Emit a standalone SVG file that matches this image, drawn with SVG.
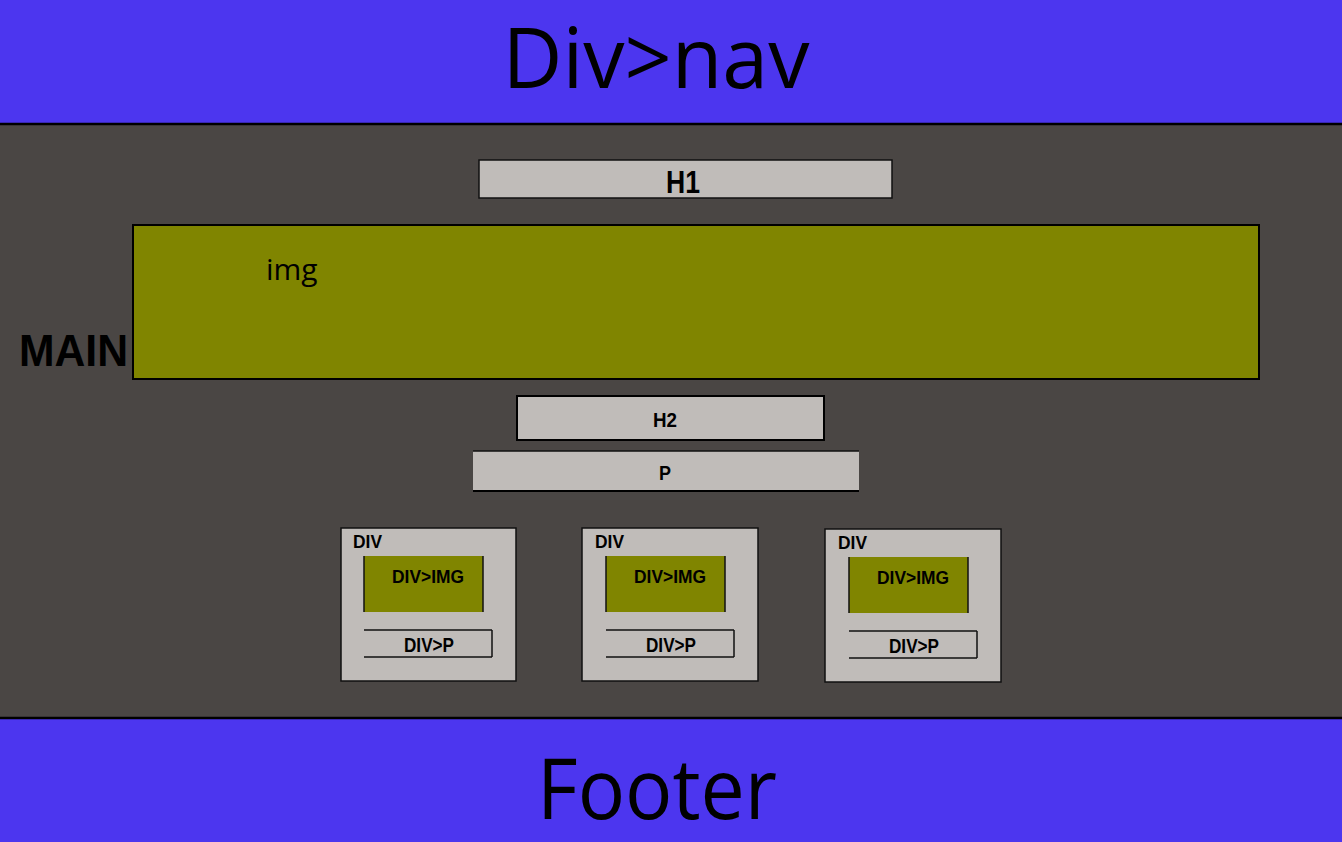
<svg xmlns="http://www.w3.org/2000/svg" width="1342" height="842" viewBox="0 0 1342 842">
<style>
.band{fill:#4c36ef}
.big{font-family:"Open Sans","Liberation Sans",sans-serif;font-size:84px;fill:#000;text-anchor:middle}
.gray{fill:#c0bcb9}
.olive{fill:#808500}
.edge{stroke:#000;stroke-width:2;fill:none}
.thin{stroke:#111;stroke-width:1.5;fill:none}
.lbl{font-family:"Liberation Sans",Arial,sans-serif;font-weight:bold;fill:#000;text-anchor:middle}
.sm{font-family:"Liberation Sans",Arial,sans-serif;font-weight:bold;fill:#000}
</style>
<rect x="0" y="0" width="1342" height="842" fill="#4a4644"/>
<g id="nav">
<rect class="band" x="0" y="0" width="1342" height="123"/>
<line x1="0" y1="124" x2="1342" y2="124" stroke="#000" stroke-width="2.5"/>
<text class="big" x="656" y="88" textLength="307" lengthAdjust="spacingAndGlyphs">Div&gt;nav</text>
</g>
<g id="main">
<text class="sm" x="19" y="366" font-size="44" textLength="109" lengthAdjust="spacingAndGlyphs">MAIN</text>
</g>
<g id="h1">
<rect class="gray" x="479" y="160" width="413" height="38"/>
<rect class="thin" x="479" y="160" width="413" height="38"/>
<text class="lbl" x="683" y="193" font-size="31" textLength="34" lengthAdjust="spacingAndGlyphs">H1</text>
</g>
<g id="img">
<rect class="olive" x="133" y="225" width="1126" height="154"/>
<rect class="edge" x="133" y="225" width="1126" height="154"/>
<text x="266" y="280" font-family="'Open Sans','Liberation Sans',sans-serif" font-size="30" fill="#000">img</text>
</g>
<g id="h2">
<rect class="gray" x="517" y="396" width="307" height="44"/>
<rect class="edge" x="517" y="396" width="307" height="44"/>
<text class="lbl" x="665" y="427" font-size="20" textLength="24" lengthAdjust="spacingAndGlyphs">H2</text>
</g>
<g id="p">
<rect class="gray" x="473" y="451" width="386" height="40"/>
<line class="thin" x1="473" y1="451" x2="859" y2="451"/>
<line class="edge" x1="473" y1="491" x2="859" y2="491"/>
<text class="lbl" x="665" y="480" font-size="21" textLength="12" lengthAdjust="spacingAndGlyphs">P</text>
</g>
<g id="div1">
<rect class="gray" x="341" y="528" width="175" height="153"/>
<rect class="thin" x="341" y="528" width="175" height="153"/>
<text class="sm" x="353" y="548" font-size="18" textLength="29" lengthAdjust="spacingAndGlyphs">DIV</text>
<rect class="olive" x="364" y="556" width="119" height="56"/>
<line class="thin" x1="364" y1="556" x2="364" y2="612"/>
<line class="thin" x1="483" y1="556" x2="483" y2="612"/>
<text class="lbl" x="428" y="583" font-size="18" textLength="72" lengthAdjust="spacingAndGlyphs">DIV&gt;IMG</text>
<line class="thin" x1="364" y1="630" x2="492" y2="630"/>
<line class="thin" x1="364" y1="657" x2="492" y2="657"/>
<line class="thin" x1="492" y1="630" x2="492" y2="657"/>
<text class="lbl" x="429" y="652" font-size="20" textLength="50" lengthAdjust="spacingAndGlyphs">DIV&gt;P</text>
</g>
<g id="div2">
<rect class="gray" x="582" y="528" width="176" height="153"/>
<rect class="thin" x="582" y="528" width="176" height="153"/>
<text class="sm" x="595" y="548" font-size="18" textLength="29" lengthAdjust="spacingAndGlyphs">DIV</text>
<rect class="olive" x="606" y="556" width="119" height="56"/>
<line class="thin" x1="606" y1="556" x2="606" y2="612"/>
<line class="thin" x1="725" y1="556" x2="725" y2="612"/>
<text class="lbl" x="670" y="583" font-size="18" textLength="72" lengthAdjust="spacingAndGlyphs">DIV&gt;IMG</text>
<line class="thin" x1="606" y1="630" x2="734" y2="630"/>
<line class="thin" x1="606" y1="657" x2="734" y2="657"/>
<line class="thin" x1="734" y1="630" x2="734" y2="657"/>
<text class="lbl" x="671" y="652" font-size="20" textLength="50" lengthAdjust="spacingAndGlyphs">DIV&gt;P</text>
</g>
<g id="div3">
<rect class="gray" x="825" y="529" width="176" height="153"/>
<rect class="thin" x="825" y="529" width="176" height="153"/>
<text class="sm" x="838" y="549" font-size="18" textLength="29" lengthAdjust="spacingAndGlyphs">DIV</text>
<rect class="olive" x="849" y="557" width="119" height="56"/>
<line class="thin" x1="849" y1="557" x2="849" y2="613"/>
<line class="thin" x1="968" y1="557" x2="968" y2="613"/>
<text class="lbl" x="913" y="584" font-size="18" textLength="72" lengthAdjust="spacingAndGlyphs">DIV&gt;IMG</text>
<line class="thin" x1="849" y1="631" x2="977" y2="631"/>
<line class="thin" x1="849" y1="658" x2="977" y2="658"/>
<line class="thin" x1="977" y1="631" x2="977" y2="658"/>
<text class="lbl" x="914" y="653" font-size="20" textLength="50" lengthAdjust="spacingAndGlyphs">DIV&gt;P</text>
</g>
<g id="footer">
<rect class="band" x="0" y="719" width="1342" height="123"/>
<line x1="0" y1="718" x2="1342" y2="718" stroke="#000" stroke-width="2.5"/>
<text class="big" x="657" y="819" textLength="240" lengthAdjust="spacingAndGlyphs">Footer</text>
</g>
<g id="connectors"/>
</svg>
